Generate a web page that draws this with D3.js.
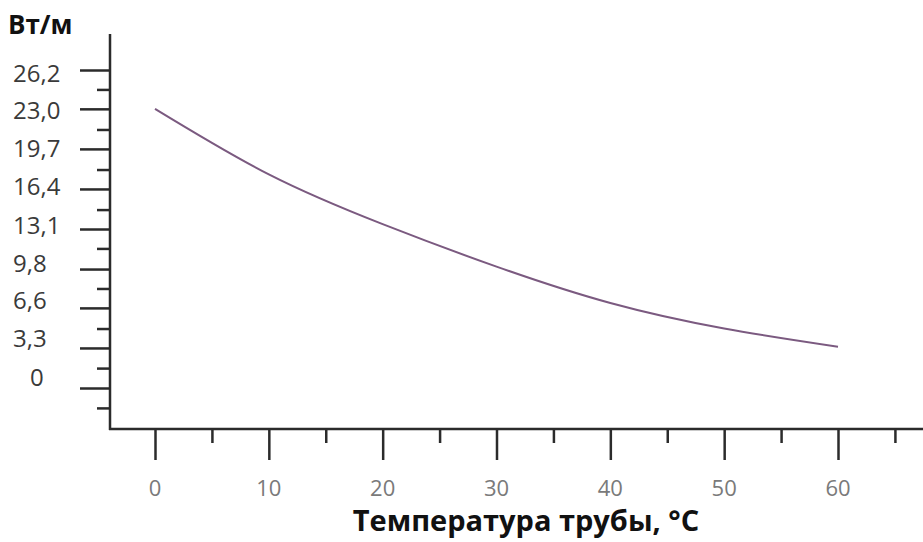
<!DOCTYPE html>
<html>
<head>
<meta charset="utf-8">
<script src="https://cdn.jsdelivr.net/npm/d3@7"></script>
<style>
  body { margin: 0; background: #fff; }
  svg { display: block; }
  text { font-family: "Open Sans", "Noto Sans", sans-serif; }
</style>
</head>
<body>
<div class="chart"></div>
<script>
// chart data
var temps = [0, 10, 20, 30, 40, 50, 60];
var power = [23.0, 17.6, 13.5, 10.0, 7.0, 4.9, 3.4];

var yTickValues = [0, 3.3, 6.6, 9.8, 13.1, 16.4, 19.7, 23.0, 26.2];
var yTickLabels = ["0", "3,3", "6,6", "9,8", "13,1", "16,4", "19,7", "23,0", "26,2"];
var yMinorValues = [-1.64, 1.64, 4.9, 8.2, 11.5, 14.7, 18.0, 21.3, 24.6];

var xTickValues = [0, 10, 20, 30, 40, 50, 60];
var xMinorValues = [5, 15, 25, 35, 45, 55, 65];

var yTitle = "Вт/м";
var xTitle = "Температура трубы, °C";

var width = 923;
var height = 542;

var svg = d3.select(".chart").append("svg")
  .attr("width", width)
  .attr("height", height);

var x = d3.scaleLinear().domain([0, 60]).range([155, 838]);
var y = d3.scaleLinear().domain([0, 26.2]).range([388, 70]);
// labels in the picture drift a little from their ticks
var yLab = d3.scaleLinear().domain([0, 26.2]).range([377, 73]);

var axisColor = "#2b2b2b";

// y axis: long + short ticks
var yAxis = svg.append("g").attr("transform", "translate(110,0)");
yAxis.call(d3.axisLeft(y).tickValues(yTickValues).tickSize(30).tickFormat(""));
yAxis.append("g").call(d3.axisLeft(y).tickValues(yMinorValues).tickSize(13).tickFormat(""));
yAxis.selectAll(".domain").remove();
yAxis.selectAll("line").attr("stroke", axisColor).attr("stroke-width", 2.5);

svg.append("line")
  .attr("x1", 110).attr("x2", 110)
  .attr("y1", 34).attr("y2", 430)
  .attr("stroke", axisColor).attr("stroke-width", 2.5);

svg.append("g").selectAll("text")
  .data(yTickValues)
  .enter().append("text")
  .attr("x", function(d){ return d === 0 ? 30 : 13; })
  .attr("y", function(d){ return yLab(d); })
  .attr("dy", "0.36em")
  .attr("fill", "#3a3a3a")
  .style("font-size", "24px")
  .text(function(d, i){ return yTickLabels[i]; });

// x axis
var xAxis = svg.append("g").attr("transform", "translate(0,429)");
xAxis.call(d3.axisBottom(x).tickValues(xTickValues).tickSize(31).tickFormat(""));
xAxis.append("g").call(d3.axisBottom(x).tickValues(xMinorValues).tickSize(14).tickFormat(""));
xAxis.selectAll(".domain").remove();
xAxis.selectAll("line").attr("stroke", axisColor).attr("stroke-width", 2.5);

svg.append("line")
  .attr("x1", 109).attr("x2", width)
  .attr("y1", 429).attr("y2", 429)
  .attr("stroke", axisColor).attr("stroke-width", 2.5);

svg.append("g").selectAll("text")
  .data(xTickValues)
  .enter().append("text")
  .attr("x", function(d){ return x(d); })
  .attr("y", 496)
  .attr("text-anchor", "middle")
  .attr("fill", "#7a7a7a")
  .style("font-size", "22px")
  .text(function(d){ return d; });

// titles
svg.append("text")
  .attr("x", 8).attr("y", 34)
  .attr("fill", "#111")
  .style("font-size", "26px")
  .style("font-weight", "bold")
  .text(yTitle);

svg.append("text")
  .attr("x", 526).attr("y", 531)
  .attr("text-anchor", "middle")
  .attr("fill", "#111")
  .style("font-size", "29px")
  .style("font-weight", "bold")
  .text(xTitle);

// the curve
var pts = temps.map(function(t, i){ return [t, power[i]]; });
var line = d3.line()
  .x(function(d){ return x(d[0]); })
  .y(function(d){ return y(d[1]); })
  .curve(d3.curveNatural);

svg.append("path")
  .datum(pts)
  .attr("d", line)
  .attr("fill", "none")
  .attr("stroke", "#7b5a80")
  .attr("stroke-width", 2);
</script>
</body>
</html>
